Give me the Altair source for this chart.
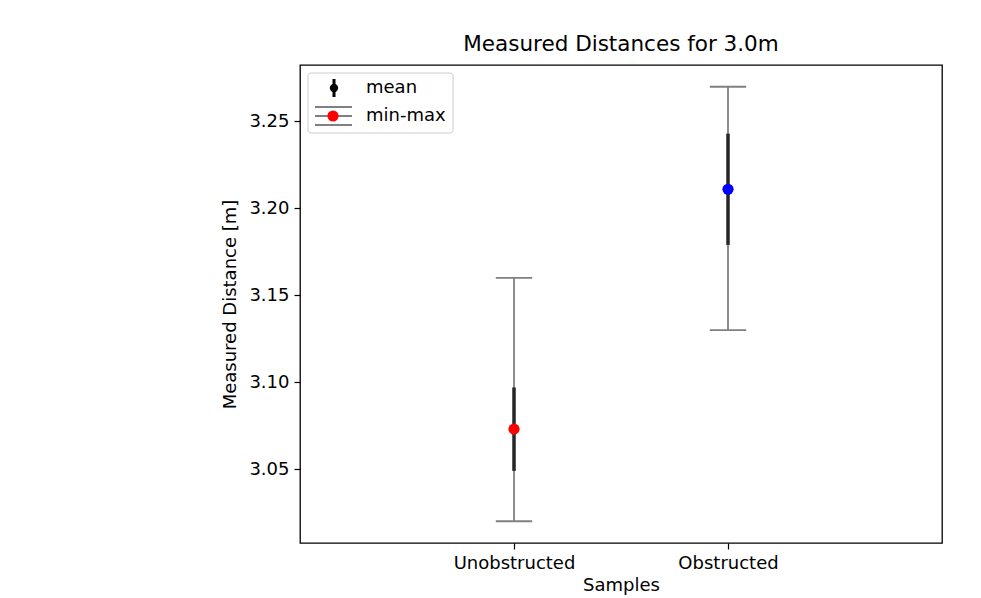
import altair as alt
import pandas as pd

# ---- data ----
samples = ["Unobstructed", "Obstructed"]
positions = [0, 1]
means = [3.073, 3.211]
stds = [0.024, 0.032]
mins = [3.02, 3.13]
maxs = [3.16, 3.27]
point_colors = ["red", "blue"]
y_ticks = [3.05, 3.10, 3.15, 3.20, 3.25]

cap_half = 0.085
df = pd.DataFrame({
    "sample": samples,
    "pos": positions,
    "mean": means,
    "lo": [m - s for m, s in zip(means, stds)],
    "hi": [m + s for m, s in zip(means, stds)],
    "min": mins,
    "max": maxs,
    "capL": [p - cap_half for p in positions],
    "capR": [p + cap_half for p in positions],
})

FONT = "DejaVu Sans"
xs = alt.Scale(domain=[-1, 2], nice=False, zero=False)
ys = alt.Scale(domain=[3.0075, 3.2825], nice=False, zero=False)

label_expr = "datum.value == 0 ? 'Unobstructed' : (datum.value == 1 ? 'Obstructed' : '')"
x_axis = alt.Axis(values=positions, labelExpr=label_expr, title="Samples", grid=False,
                  tickSize=6, labelPadding=5, titlePadding=4, domain=False)
y_axis = alt.Axis(values=y_ticks, format=".2f", title="Measured Distance [m]", grid=False,
                  tickSize=6, labelPadding=5, titlePadding=9, domain=False)

base = alt.Chart(df)

minmax = base.mark_rule(color="#808080", strokeWidth=1.8).encode(
    x=alt.X("pos:Q", scale=xs, axis=x_axis),
    y=alt.Y("min:Q", scale=ys, axis=y_axis),
    y2="max:Q",
)
cap_lo = base.mark_rule(color="#808080", strokeWidth=1.8).encode(
    x=alt.X("capL:Q", scale=xs), x2="capR:Q", y=alt.Y("min:Q", scale=ys))
cap_hi = base.mark_rule(color="#808080", strokeWidth=1.8).encode(
    x=alt.X("capL:Q", scale=xs), x2="capR:Q", y=alt.Y("max:Q", scale=ys))
std_bar = base.mark_rule(color="#262626", strokeWidth=3.5).encode(
    x=alt.X("pos:Q", scale=xs), y=alt.Y("lo:Q", scale=ys), y2="hi:Q")
pts = base.mark_point(filled=True, opacity=1, size=125, shape="circle").encode(
    x=alt.X("pos:Q", scale=xs),
    y=alt.Y("mean:Q", scale=ys),
    color=alt.Color("sample:N", scale=alt.Scale(domain=samples, range=point_colors), legend=None),
)

# ---- manual legend (matplotlib style) ----
one = alt.Chart(pd.DataFrame({"k": [0]}))
leg_box = one.mark_rect(fill="white", fillOpacity=0.8, stroke="#cccccc", strokeWidth=1,
                        cornerRadius=3).encode(
    x=alt.value(8), x2=alt.value(153), y=alt.value(8), y2=alt.value(68))
leg_mean_bar = one.mark_rule(color="black", strokeWidth=3).encode(
    x=alt.value(34), y=alt.value(14), y2=alt.value(32))
leg_mean_dot = one.mark_point(filled=True, opacity=1, color="black", size=70, shape="circle").encode(
    x=alt.value(34), y=alt.value(23))
leg_mm_line = one.mark_rule(color="#808080", strokeWidth=1.8).encode(
    x=alt.value(15), x2=alt.value(52), y=alt.value(51))
leg_mm_cap1 = one.mark_rule(color="#808080", strokeWidth=1.8).encode(
    x=alt.value(15), x2=alt.value(52), y=alt.value(42))
leg_mm_cap2 = one.mark_rule(color="#808080", strokeWidth=1.8).encode(
    x=alt.value(15), x2=alt.value(52), y=alt.value(60))
leg_mm_dot = one.mark_point(filled=True, opacity=1, color="red", size=125, shape="circle").encode(
    x=alt.value(33), y=alt.value(51))
leg_txt = alt.Chart(pd.DataFrame({"t": ["mean", "min-max"], "yy": [23, 51]})).mark_text(
    align="left", baseline="middle", font=FONT, fontSize=18, color="black").encode(
    x=alt.value(66), y=alt.Y("yy:Q", scale=None), text="t:N")

chart = alt.layer(
    minmax, cap_lo, cap_hi, std_bar, pts,
    leg_box, leg_mean_bar, leg_mean_dot, leg_mm_line, leg_mm_cap1, leg_mm_cap2, leg_mm_dot, leg_txt,
).properties(
    width=642, height=478,
    background="white",
    title=alt.TitleParams("Measured Distances for 3.0m", font=FONT, fontSize=21.5,
                          fontWeight="normal", color="black", offset=10),
    autosize=alt.AutoSizeParams(type="none"),
    padding={"left": 292, "top": 57, "right": 31, "bottom": 56},
).configure_view(
    stroke="black", strokeWidth=1.3
).configure_axis(
    labelFont=FONT, titleFont=FONT, labelFontSize=18, titleFontSize=18,
    labelColor="black", titleColor="black", tickColor="black", tickWidth=1.2,
    titleFontWeight="normal",
)

chart.save("out.html", embed_options={"renderer": "svg", "actions": False})
